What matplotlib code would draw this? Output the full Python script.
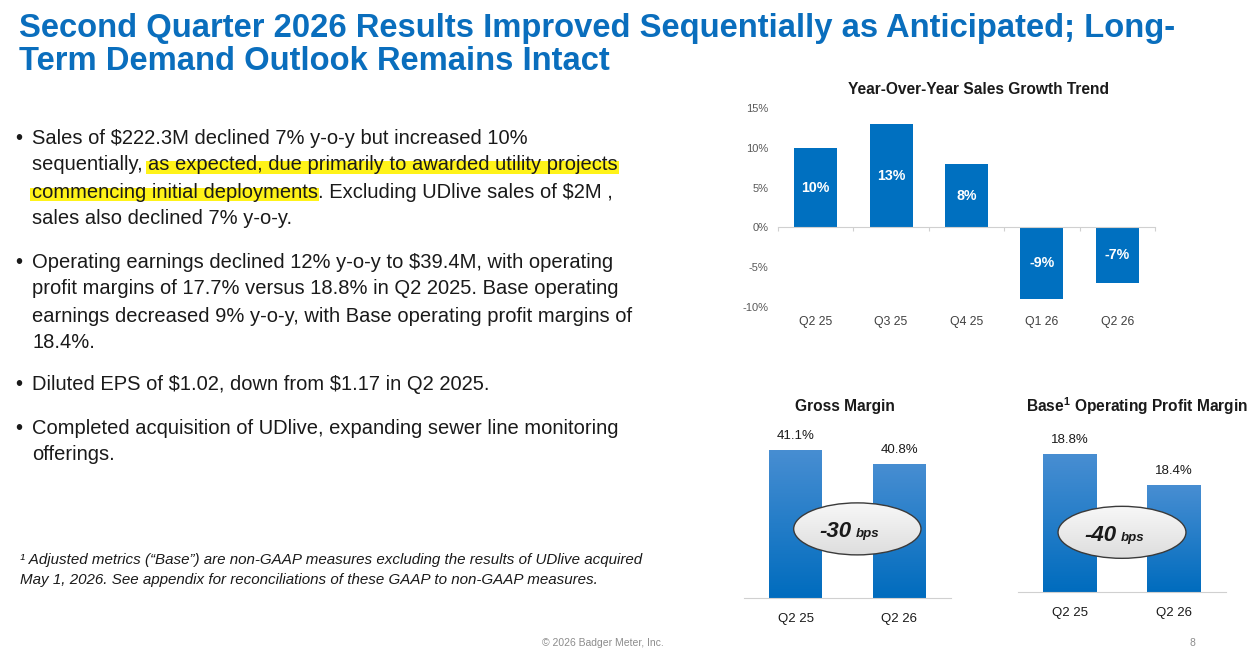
import numpy as np
import matplotlib
matplotlib.use("Agg")
import matplotlib.pyplot as plt
from matplotlib.patches import Ellipse, Rectangle

plt.rcParams['font.family'] = ['Liberation Sans', 'DejaVu Sans']

# data
yoy_quarters = ['Q2 25', 'Q3 25', 'Q4 25', 'Q1 26', 'Q2 26']
yoy_growth = [10, 13, 8, -9, -7]
yoy_ticks = [-10, -5, 0, 5, 10, 15]

gm_quarters = ['Q2 25', 'Q2 26']
gm_values = [41.1, 40.8]
gm_change = '-30'

opm_quarters = ['Q2 25', 'Q2 26']
opm_values = [18.8, 18.4]
opm_change = '-40'

BLUE = '#0070C0'
TITLE_BLUE = '#0A6EBD'
W, H = 1256, 652

fig = plt.figure(figsize=(W / 100, H / 100), dpi=100)


def fx(x):
    return x / W


def fy(y):
    return 1 - y / H


def px_axes(left, top, right, bottom):
    return fig.add_axes([fx(left), fy(bottom), (right - left) / W, (bottom - top) / H])


# slide title
fig.text(fx(19), fy(28), 'Second Quarter 2026 Results Improved Sequentially as Anticipated; Long-',
         color=TITLE_BLUE, fontsize=23.6, fontweight='bold', va='center')
fig.text(fx(19), fy(61), 'Term Demand Outlook Remains Intact',
         color=TITLE_BLUE, fontsize=23.6, fontweight='bold', va='center')

# bullets: each line is a list of (text, highlighted)
bullets = [
    (138, [[('Sales of $222.3M declined 7% y-o-y but increased 10%', False)],
           [('sequentially, ', False), ('as expected, due primarily to awarded utility projects', True)],
           [('commencing initial deployments', True), ('. Excluding UDlive sales of $2M ,', False)],
           [('sales also declined 7% y-o-y.', False)]]),
    (262, [[('Operating earnings declined 12% y-o-y to $39.4M, with operating', False)],
           [('profit margins of 17.7% versus 18.8% in Q2 2025. Base operating', False)],
           [('earnings decreased 9% y-o-y, with Base operating profit margins of', False)],
           [('18.4%.', False)]]),
    (384, [[('Diluted EPS of $1.02, down from $1.17 in Q2 2025.', False)]]),
    (428, [[('Completed acquisition of UDlive, expanding sewer line monitoring', False)],
           [('offerings.', False)]]),
]

renderer = fig.canvas.get_renderer()
line_gap = 27
for y0, lines in bullets:
    fig.text(fx(15), fy(y0), '\u2022', fontsize=14.5, va='center', color='#1a1a1a')
    for i, parts in enumerate(lines):
        y = y0 + i * line_gap
        x = 32
        for txt, hl in parts:
            t = fig.text(fx(x), fy(y), txt, fontsize=14.5, va='center', color='#1a1a1a',
                         zorder=3, parse_math=False)
            bb = t.get_window_extent(renderer)
            if hl:
                fig.add_artist(Rectangle((fx(bb.x0 - 2), fy(y + 9)), (bb.width + 3) / W, 13 / H,
                                         transform=fig.transFigure, facecolor='#FFF200',
                                         edgecolor='none', alpha=0.9, zorder=2))
            x = bb.x1

# footnote
fig.text(fx(20), fy(560), '\u00b9 Adjusted metrics (\u201cBase\u201d) are non-GAAP measures excluding the results of UDlive acquired',
         fontsize=10.9, style='italic', va='center', color='#1a1a1a')
fig.text(fx(20), fy(580), 'May 1, 2026. See appendix for reconciliations of these GAAP to non-GAAP measures.',
         fontsize=10.9, style='italic', va='center', color='#1a1a1a')
fig.text(fx(603), fy(643), '\u00a9 2026 Badger Meter, Inc.', fontsize=7.5, color='#8c8c8c',
         ha='center', va='center')
fig.text(fx(1192), fy(643), '8', fontsize=7.5, color='#8c8c8c', ha='center', va='center')

# year-over-year growth chart
ax1 = px_axes(778, 108, 1155, 307)
x1 = np.arange(len(yoy_quarters))
bars = ax1.bar(x1, yoy_growth, width=0.57, color=BLUE, zorder=2)
ax1.set_xlim(-0.5, len(yoy_quarters) - 0.5)
ax1.set_ylim(-10, 15)
ax1.set_yticks(yoy_ticks)
ax1.set_yticklabels([f'{v}%' for v in yoy_ticks])
ax1.tick_params(axis='y', length=0, pad=7, labelsize=8, labelcolor='#595959')
for s in ['top', 'right', 'left']:
    ax1.spines[s].set_visible(False)
ax1.spines['bottom'].set_position(('data', 0))
ax1.spines['bottom'].set_color('#D0D0D0')
ax1.set_xticks(np.arange(len(yoy_quarters) + 1) - 0.5)
ax1.set_xticklabels([])
ax1.tick_params(axis='x', length=3, color='#D0D0D0', direction='out')
for xi, q in zip(x1, yoy_quarters):
    ax1.text(xi, -0.075, q, transform=ax1.get_xaxis_transform(), ha='center', va='center',
             fontsize=8.8, color='#404040')
for b, v in zip(bars, yoy_growth):
    ax1.text(b.get_x() + b.get_width() / 2, v / 2, f'{v}%', ha='center', va='center',
             fontsize=10.2, fontweight='bold', color='white', zorder=3)
fig.text(fx(978), fy(90), 'Year-Over-Year Sales Growth Trend', ha='center', va='center',
         fontsize=11.2, fontweight='bold', color='#1a1a1a')

# gradient colours for the margin bars
grad = np.linspace(0, 1, 256).reshape(-1, 1)
top_c = np.array([0x48, 0x8E, 0xD2]) / 255
bot_c = np.array([0x00, 0x6C, 0xBE]) / 255
grad_img = (grad * bot_c + (1 - grad) * top_c).reshape(256, 1, 3)  # row 0 = top

ell_grad = np.linspace(0, 1, 64).reshape(-1, 1)
ell_img = (ell_grad * np.array([0.87, 0.87, 0.87])
           + (1 - ell_grad) * np.array([0.97, 0.97, 0.97])).reshape(64, 1, 3)


def margin_chart(ax, quarters, values, ymin, ymax, change, cx, label_off, title, title_x):
    xs = np.arange(len(quarters))
    bs = ax.bar(xs, values, width=0.51, color='none', zorder=2)
    ax.set_xlim(-0.5, 1.5)
    ax.set_ylim(ymin, ymax)
    for b in bs:
        x0, w, h = b.get_x(), b.get_width(), b.get_height()
        im = ax.imshow(grad_img, extent=[x0, x0 + w, ymin, h], aspect='auto', zorder=2,
                       interpolation='bilinear')
        im.set_clip_path(b)
    ax.set_xticks([])
    ax.set_yticks([])
    for s in ['top', 'right', 'left']:
        ax.spines[s].set_visible(False)
    ax.spines['bottom'].set_color('#D0D0D0')
    for xi, v in zip(xs, values):
        ax.annotate(f'{v:.1f}%', (xi, v), xytext=(0, 6), textcoords='offset points',
                    ha='center', va='bottom', fontsize=9.5, color='#1a1a1a')
    for xi, q in zip(xs, quarters):
        ax.annotate(q, (xi, 0), xycoords=ax.get_xaxis_transform(), xytext=(0, -15),
                    textcoords='offset points', ha='center', va='center', fontsize=9.5,
                    color='#1a1a1a')
    # ellipse callout between the bars
    bb = ax.get_window_extent()
    cy = ymin + (ymax - ymin) * label_off
    ew = 1.23
    eh = (ymax - ymin) * 52 / bb.height
    ell = Ellipse((cx, cy), ew, eh, facecolor='none', edgecolor='#3a3a3a', lw=1.0,
                  zorder=5, clip_on=False)
    ax.add_patch(ell)
    eim = ax.imshow(ell_img, extent=[cx - ew / 2, cx + ew / 2, cy - eh / 2, cy + eh / 2],
                    aspect='auto', zorder=4, interpolation='bilinear')
    eim.set_clip_path(ell)
    ax.set_xlim(-0.5, 1.5)
    ax.set_ylim(ymin, ymax)
    ax.annotate(change, (cx, cy), xytext=(-4, -6), textcoords='offset points', ha='right',
                va='baseline', fontsize=16, fontweight='bold', style='italic',
                color='#1a1a1a', zorder=6)
    ax.annotate('bps', (cx, cy), xytext=(-1, -6), textcoords='offset points', ha='left',
                va='baseline', fontsize=9.5, fontweight='bold', style='italic',
                color='#1a1a1a', zorder=6)
    fig.text(fx(title_x), fy(406), title, ha='center', va='center', fontsize=11.2,
             fontweight='bold', color='#1a1a1a')


ax2 = px_axes(744, 598 - 46.7 * (41.65 - 37.93), 951, 598)
margin_chart(ax2, gm_quarters, gm_values, 37.93, 41.65, gm_change, 0.595, 1.48 / 3.72,
             'Gross Margin', 845)

ax3 = px_axes(1018, 592 - 77.5 * (19.2 - 17.02), 1226, 592)
margin_chart(ax3, opm_quarters, opm_values, 17.02, 19.2, opm_change, 0.5, 0.77 / 2.18,
             'Base$^{\\mathregular{1}}$ Operating Profit Margin', 1137)

fig.savefig('out.png', dpi=100)
